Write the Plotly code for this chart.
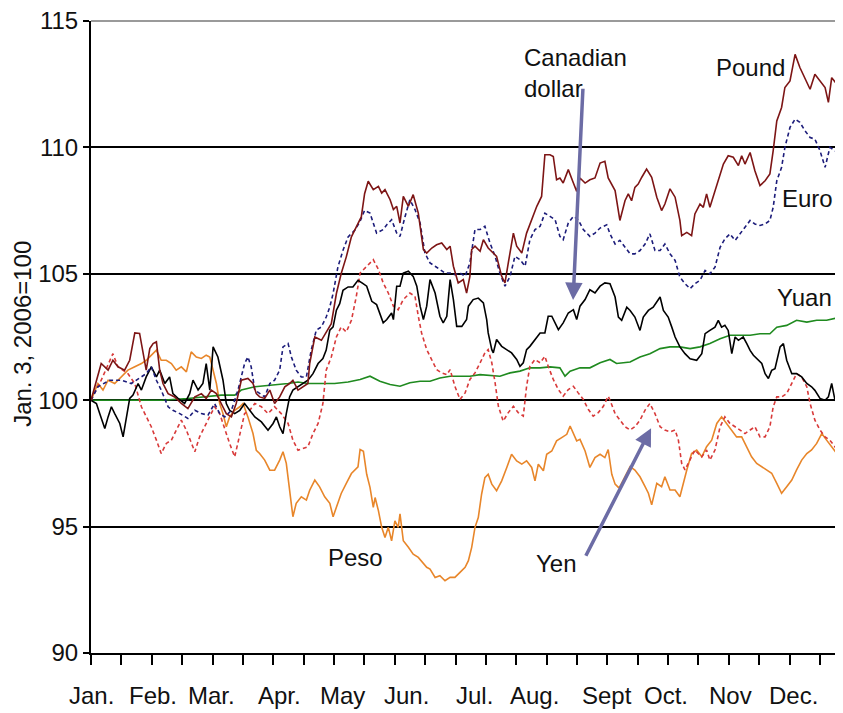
import plotly.graph_objects as go

FONT = "Liberation Sans Narrow, Liberation Sans, Arial, sans-serif"
FS = 24

# x = trading day since Jan. 3, 2006 ; y = index (Jan. 3, 2006 = 100)
MONTHS = ["Jan.", "Feb.", "Mar.", "Apr.", "May", "Jun.", "Jul.", "Aug.", "Sept", "Oct.", "Nov", "Dec."]
MONTH_DAYS = [0.3, 20.7, 40.3, 62.7, 83.7, 105.0, 127.7, 148.0, 172.0, 191.7, 213.3, 234.3]
Y_TICKS = [90, 95, 100, 105, 110, 115]

POUND = [(0,100),(3.4,101.45),(5.7,101.19),(7.3,101.58),(9.0,101.32),(11.2,101.19),(12.9,101.58),(14.6,102.66),
 (16.2,102.64),(17.3,101.98),(18.4,101.19),(19.6,102.04),(20.7,102.24),(21.8,102.31),(22.9,101.19),(24.0,100.66),
 (25.7,100.26),(27.9,100.13),(30.1,99.87),(32.3,99.67),(34.6,100.13),(36.8,100.26),(38.4,100.07),(40.1,100.40),
 (41.8,100.26),(43.4,99.87),(45.1,99.47),(46.8,99.34),(48.4,99.87),(50.1,100.79),(52.3,100.86),(54.0,100.66),
 (55.1,100.26),(56.2,100.13),(57.9,100.07),(59.6,100.40),(61.2,99.87),(62.9,100.13),(64.6,100.53),(66.2,100.66),
 (67.3,100.79),(69.0,100.40),(70.7,100.53),(72.3,100.66),(72.9,101.45),(74.6,102.50),(76.8,102.37),(78.4,102.70),
 (80.1,103.03),(81.8,104.22),(83.4,105.01),(85.1,105.67),(86.8,106.46),(88.4,106.85),(90.1,107.25),(91.2,108.17),
 (92.4,108.66),(94.1,108.33),(95.8,108.46),(96.9,108.19),(98.0,108.33),(99.7,107.93),(100.8,107.54),(101.9,107.67),
 (103.0,107.01),(104.1,108.06),(105.8,107.67),(107.4,108.13),(109.1,107.40),(110.8,105.96),(111.9,105.82),(113.6,106.02),
 (115.2,106.15),(116.9,106.22),(118.6,105.96),(119.7,106.09),(120.8,105.30),(122.4,104.64),(124.1,104.77),(125.2,104.24),
 (126.3,104.90),(126.9,105.96),(128.0,106.09),(129.7,105.89),(130.8,106.35),(132.4,106.02),(134.1,105.82),(135.2,105.69),
 (136.9,104.90),(138.0,104.64),(139.1,105.43),(140.8,106.61),(141.9,106.09),(143.6,105.82),(145.2,106.61),(146.9,107.14),
 (148.6,107.67),(150.2,108.06),(151.3,109.71),(153.0,109.71),(154.1,109.64),(155.2,108.72),(156.3,108.79),(157.4,108.59),
 (159.1,109.12),(160.8,108.59),(161.9,108.26),(163.0,108.79),(164.7,108.59),(166.3,108.72),(168.0,108.79),(169.7,109.38),
 (171.3,109.45),(172.4,108.79),(174.7,108.29),(176.3,107.11),(178.0,107.89),(179.1,108.16),(180.2,107.89),(181.3,108.42),
 (182.4,108.55),(183.6,108.82),(185.2,109.14),(186.9,108.82),(188.6,108.03),(190.2,107.50),(191.3,107.76),(193.0,108.36),
 (194.7,108.03),(196.3,107.11),(196.9,106.51),(198.6,106.64),(200.2,106.51),(201.3,107.37),(203.0,107.76),(204.1,107.63),
 (205.2,108.16),(206.3,107.63),(207.4,108.03),(209.1,108.68),(210.8,109.34),(212.4,109.67),(214.1,109.61),(215.8,109.28),
 (216.9,109.67),(218.0,109.34),(219.7,109.80),(221.3,109.08),(223.0,108.49),(224.7,108.68),(226.3,108.95),(227.4,109.87),
 (228.6,111.05),(230.2,111.58),(231.3,112.37),(233.0,112.63),(234.7,113.68),(236.3,113.16),(238.0,112.76),(239.7,112.30),
 (241.3,112.89),(243.0,112.63),(244.7,112.37),(245.8,111.78),(246.9,112.76),(248.6,112.50),(250.6,112.37)]

EURO = [(0,100),(2.3,100.53),(6.2,100.79),(10.1,100.79),(13.4,100.66),(18.4,101.05),(20.1,101.32),(21.8,100.79),
 (23.4,100.40),(25.7,99.74),(27.3,99.60),(29.6,99.47),(32.3,99.28),(34.6,99.60),(36.8,99.47),(39.0,99.41),(41.2,99.87),
 (42.9,99.47),(44.6,99.34),(46.8,99.60),(49.0,100.40),(51.2,101.45),(52.3,101.71),(53.4,101.32),(54.6,100.40),(56.2,100.26),
 (57.9,100.13),(59.6,100.66),(61.2,100.79),(62.9,101.19),(64.0,102.11),(65.7,102.24),(66.8,101.71),(68.4,101.19),
 (70.1,100.92),(71.8,100.92),(73.4,101.98),(75.1,102.77),(76.8,102.90),(78.4,103.29),(79.6,103.69),(80.7,104.22),
 (82.3,105.27),(84.0,105.93),(85.7,106.46),(87.9,106.72),(89.6,107.05),(91.2,107.51),(93.0,107.40),(95.2,106.61),
 (97.4,106.75),(98.6,106.94),(100.2,107.14),(101.9,106.61),(103.0,106.48),(104.7,107.27),(106.3,107.93),(108.0,107.54),
 (109.7,107.01),(111.3,105.82),(113.0,105.43),(114.7,105.30),(116.3,105.16),(118.0,105.03),(119.7,105.03),(121.3,104.97),
 (123.0,105.03),(124.7,104.90),(126.3,105.43),(128.0,106.75),(129.7,106.75),(131.3,106.88),(133.0,106.22),(134.7,105.69),
 (136.3,105.03),(138.0,104.51),(139.7,104.90),(141.3,105.69),(143.0,105.56),(144.7,105.30),(146.3,106.35),(148.0,106.75),
 (149.7,106.88),(151.3,107.40),(153.0,107.27),(154.7,107.14),(156.3,106.48),(157.4,106.35),(159.1,107.01),(160.8,107.27),
 (162.4,107.14),(164.1,106.75),(166.3,106.48),(168.0,106.61),(169.7,106.81),(171.9,106.94),(173.0,106.58),(174.7,106.18),
 (176.3,106.32),(178.0,106.05),(179.7,105.79),(181.3,105.79),(183.0,105.92),(184.7,106.18),(186.3,106.58),(188.0,105.92),
 (189.7,105.92),(191.3,106.18),(193.0,105.79),(194.7,105.53),(196.3,104.87),(198.0,104.61),(199.7,104.41),(201.3,104.61),
 (203.0,104.74),(204.7,105.13),(206.3,105.00),(208.0,105.26),(209.7,106.05),(211.3,106.38),(213.0,106.58),(214.7,106.32),
 (216.3,106.58),(218.0,106.84),(219.7,107.11),(221.3,106.97),(223.0,106.91),(224.7,106.97),(226.3,107.11),(227.4,107.63),
 (228.6,108.68),(230.2,109.21),(231.3,110.00),(233.0,110.79),(234.7,111.12),(236.3,110.99),(238.0,110.66),(239.7,110.39),
 (241.3,110.33),(243.0,109.87),(244.7,109.21),(246.3,110.00),(248.0,109.87),(249.7,109.67),(250.6,109.70)]

CAD = [(0,100),(1.8,99.87),(2.9,99.47),(4.6,98.88),(5.7,99.34),(6.8,99.74),(7.9,99.47),(9.6,99.08),(10.7,98.55),
 (11.8,99.34),(12.9,100.07),(14.0,100.20),(15.7,100.66),(16.8,100.40),(18.4,100.92),(20.1,101.32),(21.8,100.92),
 (22.9,101.19),(24.6,100.66),(26.2,100.92),(27.3,100.26),(29.0,100.07),(31.2,99.87),(32.9,100.26),(34.0,100.79),
 (35.7,100.40),(37.3,100.66),(38.4,101.45),(39.6,100.40),(40.7,102.11),(42.3,101.71),(44.0,100.79),(45.1,99.87),
 (46.2,99.60),(47.9,99.47),(49.6,99.60),(51.2,99.87),(52.9,99.60),(54.6,99.34),(56.8,99.14),(59.0,98.81),(60.7,99.08),
 (61.8,99.34),(62.9,98.95),(64.0,98.68),(65.1,99.47),(66.2,100.13),(67.3,100.40),(69.0,100.53),(70.7,100.66),
 (72.3,100.79),(74.0,101.05),(75.7,101.45),(77.3,101.65),(78.4,101.98),(79.6,102.77),(80.7,102.90),(81.8,103.56),
 (82.9,103.82),(84.0,104.35),(85.7,104.48),(87.3,104.48),(89.0,104.74),(90.7,104.61),(91.9,104.51),(93.6,103.91),
 (95.2,103.78),(97.4,103.06),(98.6,103.19),(100.2,103.45),(100.8,103.19),(101.9,104.51),(103.0,104.51),(104.1,105.03),
 (105.8,105.10),(107.4,104.90),(108.6,104.51),(109.7,103.72),(110.8,103.19),(111.9,103.72),(113.0,104.77),(114.7,104.24),
 (116.3,103.32),(117.4,103.06),(118.6,103.32),(119.7,104.77),(120.8,103.98),(121.9,102.92),(123.6,102.92),(125.2,103.19),
 (125.8,103.72),(127.4,103.98),(129.1,104.04),(130.8,103.85),(131.9,103.19),(132.4,102.66),(133.6,102.00),(134.1,101.87),
 (135.2,102.40),(136.9,102.13),(138.6,102.00),(140.2,101.87),(141.9,101.61),(143.0,101.34),(144.1,101.48),(145.2,102.00),
 (146.3,102.13),(148.0,102.40),(149.7,102.66),(151.3,102.66),(152.4,103.32),(153.6,103.32),(154.7,103.06),(155.8,102.79),
 (157.4,103.06),(159.1,103.45),(160.8,103.58),(161.9,103.19),(163.0,103.72),(164.7,103.98),(166.3,104.37),(168.0,104.24),
 (169.7,104.51),(171.3,104.64),(173.0,104.61),(174.7,104.08),(175.8,103.29),(176.9,103.16),(178.6,103.68),(179.7,103.55),
 (181.3,103.29),(183.0,102.76),(184.1,103.29),(185.8,103.55),(187.4,103.68),(189.7,104.08),(190.8,103.55),(192.4,103.29),
 (193.6,102.89),(194.7,102.50),(196.3,102.11),(198.0,101.84),(199.7,101.64),(201.9,101.58),(203.6,101.84),(204.7,102.63),
 (206.3,102.76),(208.0,102.89),(209.1,103.16),(210.2,102.89),(211.3,102.96),(212.4,102.76),(213.6,101.84),(214.7,102.50),
 (215.8,102.37),(217.4,102.50),(218.6,102.24),(219.7,101.97),(220.8,101.78),(223.6,101.45),(224.7,101.05),(225.8,100.86),
 (226.9,101.18),(228.0,101.25),(229.7,102.11),(230.8,102.24),(231.9,101.58),(233.6,101.05),(235.2,101.05),(236.9,100.92),
 (238.6,100.66),(240.2,100.53),(241.3,100.39),(243.0,100.07),(244.7,100.00),(245.8,100.13),(246.9,100.66),(248.0,100.00),
 (249.7,99.80),(250.6,99.75)]

YUAN = [(0,100),(23.4,100.0),(32.3,100.07),(43.4,100.20),(47.9,100.20),(50.1,100.40),(54.6,100.53),(61.2,100.59),
 (65.7,100.66),(69.0,100.72),(72.3,100.66),(76.8,100.66),(81.2,100.66),(85.7,100.72),(89.7,100.82),(93.0,100.95),
 (96.3,100.75),(99.7,100.62),(103.0,100.55),(106.3,100.69),(109.7,100.75),(113.0,100.75),(116.3,100.88),(119.7,100.95),
 (123.0,100.95),(126.3,100.95),(129.7,101.01),(133.0,100.97),(136.3,100.95),(139.7,101.08),(143.0,101.15),(146.3,101.28),
 (149.7,101.28),(153.0,101.32),(156.3,101.28),(158.0,100.95),(159.7,101.15),(163.0,101.28),(166.3,101.28),(169.7,101.48),
 (173.0,101.61),(175.2,101.45),(179.7,101.51),(183.0,101.71),(186.3,101.84),(189.7,102.04),(193.0,102.11),(196.3,102.11),
 (199.7,102.04),(203.0,102.11),(206.3,102.24),(209.7,102.43),(213.0,102.57),(216.3,102.57),(219.7,102.57),(223.0,102.63),
 (226.3,102.63),(228.6,102.89),(231.9,102.96),(235.2,103.16),(238.6,103.09),(241.9,103.16),(245.2,103.16),(248.6,103.25),
 (250.6,103.22)]

YEN = [(0,100),(3.4,100.79),(7.3,101.84),(9.0,101.32),(12.3,101.05),(14.6,100.66),(16.8,99.74),(18.4,99.34),(20.1,98.95),
 (21.8,98.42),(23.4,97.89),(25.1,98.29),(26.8,98.42),(28.4,98.81),(30.1,99.21),(31.8,98.81),(33.4,98.29),(34.6,97.96),
 (36.2,98.55),(37.9,98.95),(39.6,99.34),(41.2,99.74),(42.9,99.47),(44.6,98.81),(46.2,98.29),(47.9,97.76),(49.6,98.68),
 (51.2,99.47),(52.9,99.60),(54.6,99.87),(56.8,99.74),(59.0,99.47),(61.2,99.74),(63.4,99.47),(65.7,99.08),(67.3,98.42),
 (69.0,98.02),(70.7,98.09),(72.3,98.16),(74.0,98.68),(75.7,99.08),(77.3,99.87),(78.4,101.19),(80.1,101.71),(81.8,102.50),
 (83.4,102.90),(85.1,102.70),(86.8,103.16),(88.4,104.08),(89.7,105.03),(91.9,105.30),(94.1,105.56),(95.8,105.17),
 (97.4,104.64),(99.1,104.24),(100.8,103.72),(102.4,103.58),(104.1,103.98),(106.3,104.24),(108.0,104.11),(109.1,103.32),
 (110.2,102.66),(111.9,102.00),(113.6,101.61),(115.2,101.21),(116.9,101.08),(118.6,101.01),(119.7,101.21),(121.3,100.55),
 (123.0,100.03),(124.7,100.29),(126.3,100.82),(128.0,101.08),(129.7,101.48),(131.3,101.87),(132.4,102.00),(133.6,101.48),
 (134.7,100.69),(135.8,99.76),(137.4,99.17),(139.1,99.51),(140.8,99.76),(142.4,99.51),(144.1,99.37),(145.2,100.55),
 (146.3,101.34),(148.0,101.61),(149.7,101.48),(151.3,101.74),(152.4,101.34),(154.1,100.82),(155.8,100.42),(157.4,100.16),
 (159.1,100.42),(160.8,100.55),(162.4,100.29),(164.1,100.03),(165.8,99.63),(167.4,99.37),(169.1,99.51),(170.8,99.76),
 (172.4,100.16),(173.0,100.0),(174.7,99.47),(176.3,99.21),(178.0,98.95),(179.7,98.82),(181.3,98.95),(183.0,99.21),
 (184.7,99.61),(186.3,99.87),(188.0,99.47),(189.7,98.95),(191.3,98.82),(193.0,98.75),(194.7,98.82),(195.8,98.42),
 (196.3,97.89),(196.9,97.50),(198.0,97.24),(199.7,97.63),(201.3,98.03),(202.4,97.89),(203.6,97.76),(205.2,98.03),
 (206.3,97.63),(208.0,98.03),(209.7,98.95),(211.3,99.34),(213.0,99.08),(214.7,98.95),(216.3,98.82),(218.0,98.68),
 (219.7,98.82),(221.3,98.95),(223.0,98.55),(224.7,98.55),(226.3,98.95),(227.4,99.74),(228.6,100.13),(230.2,100.13),
 (231.9,100.26),(233.6,100.66),(235.2,101.05),(236.9,100.92),(238.6,100.53),(239.7,99.87),(241.3,99.21),(243.0,98.82),
 (244.7,98.55),(246.3,98.42),(248.0,98.16),(249.7,97.89),(250.6,97.85)]

PESO = [(0,100),(2.3,100.66),(4.0,100.40),(5.7,100.79),(7.9,100.66),(10.1,100.92),(12.3,101.19),(14.6,101.32),
 (16.8,101.45),(18.4,101.58),(20.1,101.78),(21.8,101.98),(23.4,101.58),(25.1,101.58),(26.8,101.45),(28.4,101.19),
 (30.1,101.32),(31.8,101.12),(33.4,101.91),(35.1,101.71),(36.8,101.65),(38.4,101.78),(39.6,101.71),(40.7,101.19),
 (41.8,100.66),(42.9,99.87),(44.0,99.47),(45.1,98.95),(46.2,99.34),(47.9,99.60),(49.6,99.74),(50.7,99.87),(52.3,99.34),
 (54.0,98.68),(55.1,98.02),(56.2,97.89),(57.9,97.63),(59.6,97.23),(61.2,97.23),(62.9,97.63),(64.0,97.96),(65.1,97.50),
 (66.2,96.44),(67.3,95.39),(68.4,95.92),(70.1,96.18),(71.8,96.05),(72.9,96.44),(74.6,96.84),(76.2,96.57),(77.9,96.18),
 (79.6,95.92),(80.7,95.39),(81.8,95.78),(83.4,96.31),(85.1,96.71),(86.8,97.10),(89.0,97.36),(89.7,98.05),(90.8,97.98),
 (91.9,97.07),(93.0,96.55),(94.1,95.76),(94.7,96.15),(95.8,95.63),(96.9,94.97),(98.0,94.57),(99.1,94.97),(100.2,94.44),
 (101.3,95.23),(102.4,94.97),(103.0,95.50),(104.1,94.44),(105.8,94.18),(107.4,93.91),(109.1,93.78),(110.8,93.52),
 (111.9,93.39),(113.0,93.32),(114.7,92.99),(116.3,93.06),(118.0,92.86),(119.7,92.99),(121.3,92.99),(123.0,93.19),
 (124.7,93.39),(125.8,93.65),(126.9,94.18),(128.0,94.97),(129.1,95.36),(130.2,96.28),(131.3,96.94),(132.4,97.07),
 (133.6,96.68),(135.2,96.42),(136.9,96.81),(138.6,97.34),(140.2,97.86),(141.9,97.60),(143.6,97.47),(145.2,97.60),
 (146.9,97.34),(148.0,96.81),(149.1,97.47),(150.8,97.21),(151.9,97.86),(153.6,97.99),(155.2,98.39),(156.9,98.52),
 (158.6,98.65),(159.7,98.98),(160.8,98.65),(161.9,98.39),(163.0,98.45),(164.7,97.99),(166.3,97.34),(168.0,97.73),
 (169.7,97.86),(171.3,97.73),(172.4,98.05),(173.6,97.07),(174.7,96.68),(175.8,96.55),(176.3,96.58),(178.0,96.97),
 (179.7,97.37),(181.3,97.24),(183.0,96.97),(184.7,96.58),(185.8,96.32),(186.9,95.86),(188.6,96.71),(190.2,96.58),
 (191.3,96.97),(193.0,96.45),(194.7,96.45),(196.3,96.18),(197.4,96.71),(198.6,97.24),(200.2,97.89),(201.9,98.03),
 (203.6,97.76),(205.2,98.16),(206.9,98.42),(208.6,99.08),(210.2,99.34),(211.9,99.08),(213.6,98.82),(215.2,98.55),
 (216.9,98.55),(218.6,98.16),(220.2,97.76),(221.9,97.50),(223.6,97.37),(225.2,97.24),(226.9,97.11),(228.6,96.71),
 (230.2,96.32),(231.9,96.58),(233.6,96.84),(235.2,97.24),(236.9,97.63),(238.6,97.89),(240.2,98.03),(241.9,98.29),
 (243.6,98.68),(245.2,98.42),(246.9,98.16),(248.6,97.89),(250.6,97.76)]

SERIES = [
    ("Peso", PESO, "#e8862a", "solid"),
    ("Yuan", YUAN, "#1f8a1f", "solid"),
    ("Yen", YEN, "#d83a3a", "4px,3px"),
    ("Canadian dollar", CAD, "#000000", "solid"),
    ("Euro", EURO, "#1c1c7a", "4px,3px"),
    ("Pound", POUND, "#7d1515", "solid"),
]

fig = go.Figure()
for name, pts, color, dash in SERIES:
    xs = [p[0] for p in pts]
    ys = [p[1] for p in pts]
    fig.add_trace(go.Scatter(x=xs, y=ys, mode="lines", name=name, showlegend=False,
                             line=dict(color=color, width=1.6, dash=dash)))

TXT = dict(family=FONT, size=FS, color="#111111")

fig.update_layout(
    width=835, height=705,
    margin=dict(l=83, r=0, t=13, b=60, autoexpand=False),
    paper_bgcolor="white", plot_bgcolor="white",
    showlegend=False,
    font=TXT,
)
fig.update_xaxes(range=[0, 250.67], showgrid=False, zeroline=False, automargin=False,
                 showline=True, linecolor="black", linewidth=2,
                 ticks="outside", ticklen=10, tickwidth=1.5, tickcolor="black",
                 tick0=0, dtick=10.125, showticklabels=False)
fig.update_yaxes(range=[90, 115], tickvals=Y_TICKS, ticktext=[str(v) for v in Y_TICKS],
                 ticks="outside", ticklen=6, tickwidth=1.5, tickcolor="black", automargin=False,
                 ticklabeloverflow="allow",
                 showline=True, linecolor="black", linewidth=2,
                 showgrid=True, gridcolor="black", gridwidth=1.5, zeroline=False,
                 tickfont=TXT)

# grey top border line at 115
fig.add_shape(type="line", xref="paper", yref="paper", x0=0, x1=1, y0=1, y1=1,
              line=dict(color="#9a9a9a", width=2))

ann = []
for m, d in zip(MONTHS, MONTH_DAYS):
    ann.append(dict(x=d, y=-0.0665, xref="x", yref="paper", text=m, showarrow=False,
                    xanchor="center", yanchor="middle", font=TXT))

ann.append(dict(x=-0.0904, y=0.505, xref="paper", yref="paper", text="Jan. 3, 2006=100",
                textangle=-90, showarrow=False, xanchor="center", yanchor="middle", font=TXT))

LABELS = [
    ("Canadian<br>dollar", 143.7, 112.94, "left"),
    ("Pound", 219.7, 113.15, "center"),
    ("Euro", 239.0, 107.99, "center"),
    ("Yuan", 247.6, 104.07, "right"),
    ("Peso", 88.3, 93.79, "center"),
    ("Yen", 155.3, 93.55, "center"),
]
for txt, x, y, anc in LABELS:
    ann.append(dict(x=x, y=y, xref="x", yref="y", text=txt, showarrow=False, align="left",
                    xanchor=anc, yanchor="middle", font=TXT))

ARROW = "#6c6ca5"
# (tip_x, tip_y, tail_x, tail_y)
ARROWS = [(160.7, 103.96, 164.0, 112.38), (186.7, 98.89, 164.7, 93.79)]
for tx, ty, sx, sy in ARROWS:
    ann.append(dict(x=tx, y=ty, ax=sx, ay=sy, xref="x", yref="y", axref="x", ayref="y",
                    text="", showarrow=True, arrowhead=2, arrowsize=1, arrowwidth=3.5,
                    arrowcolor=ARROW, standoff=0))

fig.update_layout(annotations=ann)
fig.write_html("out.html")
